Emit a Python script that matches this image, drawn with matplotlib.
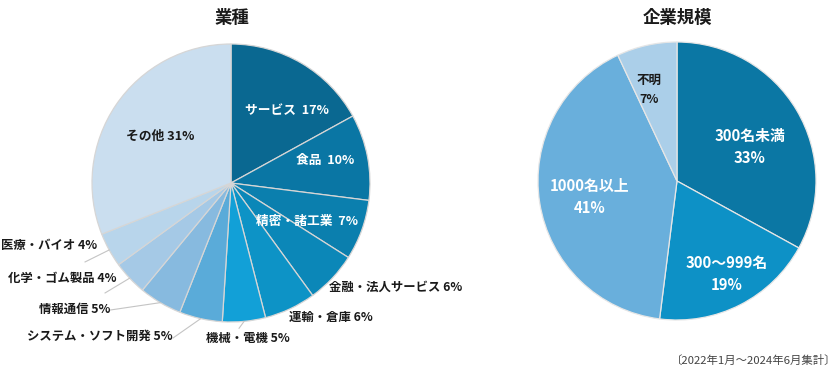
import numpy as np
import matplotlib
matplotlib.use("Agg")
from matplotlib import pyplot as plt

plt.rcParams['font.family'] = ['Noto Sans CJK JP', 'DejaVu Sans']

# 業種 (industry)
ind_labels = ["サービス", "食品", "精密・諸工業", "金融・法人サービス", "運輸・倉庫",
              "機械・電機", "システム・ソフト開発", "情報通信", "化学・ゴム製品",
              "医療・バイオ", "その他"]
ind_values = [17, 10, 7, 6, 6, 5, 5, 5, 4, 4, 31]
ind_colors = ["#0a6891", "#0a76a4", "#0b7fae", "#0b87b8", "#0d93c6", "#12a0d7",
              "#5aabd9", "#87badf", "#a5c9e6", "#b8d5eb", "#cadeef"]

# 企業規模 (company size)
size_labels = ["300名未満", "300～999名", "1000名以上", "不明"]
size_values = [33, 19, 41, 7]
size_colors = ["#0b77a4", "#0d91c6", "#69afdc", "#abcfe9"]

# label placement (pie radius units) and style
ind_pos = [(0.40, 0.52), (0.68, 0.16), (0.55, -0.28), (0.705, -0.75), (0.417, -0.97),
           (-0.18, -1.12), (-0.417, -1.10), (-0.87, -0.906), (-0.827, -0.683),
           (-0.964, -0.453), (-0.51, 0.338)]
ind_ha = ["center", "center", "center", "left", "left", "left", "right", "right",
          "right", "right", "center"]
ind_inside = [True, True, True, False, False, False, False, False, False, False, True]
ind_sep = ["  ", "  ", "  ", " ", " ", " ", " ", " ", " ", " ", " "]
# leader line ends for outside labels (None = no leader)
leader_end = [None, None, None, None, None, (0.058, -1.045), (-0.417, -1.115),
              (-0.87, -0.914), (-0.906, -0.791), (-1.05, -0.568), None]

size_pos = [(0.525, 0.245), (0.36, -0.67), (-0.63, -0.115), (-0.20, 0.655)]

W, H = 840, 368
R = 139
fig = plt.figure(figsize=(8.4, 3.68), dpi=100)

# left pie
cx, cy = 231, 183
ax1 = fig.add_axes([(cx - R) / W, (H - cy - R) / H, 2 * R / W, 2 * R / H])
wedges, _ = ax1.pie(ind_values, colors=ind_colors, startangle=90, counterclock=False,
                    radius=1, wedgeprops=dict(edgecolor="#d6d6d6", linewidth=0.9))
ax1.set_xlim(-1, 1)
ax1.set_ylim(-1, 1)
ax1.axis("off")
for i, w in enumerate(wedges):
    txt = f"{ind_labels[i]}{ind_sep[i]}{ind_values[i]}%"
    if i == len(wedges) - 1 or not ind_inside[i]:
        col = "#1a1a1a"
    else:
        col = "white"
    fs = 9.2 if ind_inside[i] else 8.9
    x, y = ind_pos[i]
    ax1.text(x, y, txt, ha=ind_ha[i], va="center", fontsize=fs, fontweight="bold",
             color=col)
    if leader_end[i] is not None:
        mid = np.deg2rad((w.theta1 + w.theta2) / 2)
        ax1.plot([np.cos(mid), leader_end[i][0]], [np.sin(mid), leader_end[i][1]],
                 color="#c4c4c4", lw=0.8, clip_on=False)

# right pie
cx, cy = 677, 181
ax2 = fig.add_axes([(cx - R) / W, (H - cy - R) / H, 2 * R / W, 2 * R / H])
wedges2, _ = ax2.pie(size_values, colors=size_colors, startangle=90, counterclock=False,
                     radius=1, wedgeprops=dict(edgecolor="#e6e6e6", linewidth=0.9))
ax2.set_xlim(-1, 1)
ax2.set_ylim(-1, 1)
ax2.axis("off")
for i in range(len(size_values)):
    x, y = size_pos[i]
    if i == 3:
        ax2.text(x, y, f"{size_labels[i]}\n{size_values[i]}%", ha="center", va="center",
                 fontsize=9, fontweight="bold", color="#1a1a1a", linespacing=1.6)
    else:
        ax2.text(x, y, f"{size_labels[i]}\n{size_values[i]}%", ha="center", va="center",
                 fontsize=10.7, fontweight="bold", color="white", linespacing=1.5)

fig.text(232 / W, 1 - 18 / H, "業種", ha="center", va="center", fontsize=12.5,
         fontweight="bold", color="#1a1a1a")
fig.text(677 / W, 1 - 18 / H, "企業規模", ha="center", va="center", fontsize=12.5,
         fontweight="bold", color="#1a1a1a")
fig.text(836 / W, 1 - 360 / H, "〔2022年1月～2024年6月集計〕", ha="right", va="center",
         fontsize=8.2, color="#444444")

fig.savefig("out.png", dpi=100)
